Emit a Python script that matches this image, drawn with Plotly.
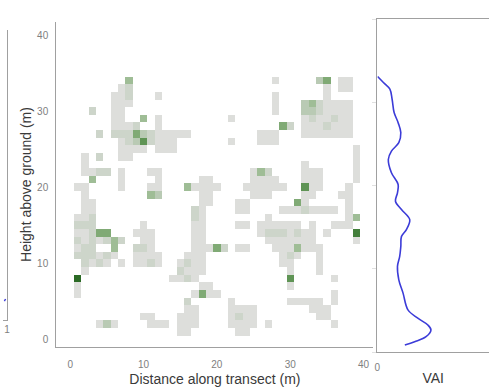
import plotly.graph_objects as go

# Grid of 1 m x 1 m voxels along the transect
distance_m = list(range(41))
height_m = list(range(36))

# Leaf-density class per voxel, rows listed from the top (35 m) down to the ground (0 m).
# Each character is one metre along the transect (0..40 m, grouped by tens);
# '.' means no returns.
density_rows_top_down = [
    ".......... .......... .......... .......... .",  # 35
    "........5. .......... ........2. ....46.22. .",  # 34
    ".......23. .......... .......... .....2.22. .",  # 33
    "......223. ..2....... ........2. .....2.... .",  # 32
    "......222. .......... ........2. ..4532222. .",  # 31
    "...3..22.. .......... ........2. ..4432222. .",  # 30
    "......22.. 5.2....... ..2....... ..2322322. .",  # 29
    "......2223 ..2....... .........6 3.2223222. .",  # 28
    "....3.3336 4322222... ......222. ..2222222. .",  # 27
    ".......234 73222..... ..2...222. .......... .",  # 26
    ".......222 2.222..... .......... .........2 .",  # 25
    "..2.3..22. .......... .......... .........2 .",  # 24
    "..2....... .......... .......... ..2......2 .",  # 23
    "..2233.2.. .22....... .....253.. ..222....2 .",  # 22
    "...5...2.. ..2.....22 .....2222. ..222....2 .",  # 21
    ".22....2.. .22...5222 2...222222 ..722...2. .",  # 20
    "..2....... .54.....22 .....222.. ..22...22. .",  # 19
    "..22...... ........22 ...22..... .62.....2. .",  # 18
    "..22...... .......32. ...22....2 2232222.2. .",  # 17
    ".223...... .......32. .......2.. ........25 .",  # 16
    ".333...... 2......22. ...22.2222 22.2..222. .",  # 15
    ".22366...2 22.....22. ......2333 2322.2...8 .",  # 14
    ".3232353.. 22.....22. .......222 2222.....2 .",  # 13
    ".233..5..3 32.....222 63.22...22 25222..... .",  # 12
    ".333232..2 222...222. .........2 32..2..... .",  # 11
    "..3232.2.2 232..2322. .........2 2...2..... .",  # 10
    "..2....... .....3222. .......... 2...2..... .",  # 9
    ".9........ ....2232.. .......... 7.....2... .",  # 8
    ".2........ ........22 .......... 2......... .",  # 7
    ".2........ .......262 2......... ......2... .",  # 6
    ".......... ......3... ..2....... 22222.2... .",  # 5
    ".......... ......22.. ..2222.... ...222.... .",  # 4
    ".......... 22...222.. ..2322.... ....22.... .",  # 3
    "....242... .222.222.. ..2222.2.. ......2... .",  # 2
    ".......... .....22... ...22..... .......... .",  # 1
    ".......... .......... .......... .......... .",  # 0
]

# Vegetation area index profile
vai_height = [33.10, 32.37, 31.57, 30.36, 28.76, 27.55, 26.35, 25.14, 24.13, 23.13,
              21.53, 20.12, 19.12, 18.11, 17.11, 15.90, 14.70, 13.89, 12.69, 11.48,
              10.28, 8.67, 7.07, 5.06, 4.06, 3.25, 2.65, 1.84, 1.24, 0.84]
vai_value = [0.001, 0.027, 0.056, 0.066, 0.075, 0.093, 0.105, 0.096, 0.063, 0.049,
             0.063, 0.093, 0.090, 0.081, 0.108, 0.145, 0.130, 0.108, 0.105, 0.100,
             0.090, 0.096, 0.115, 0.137, 0.181, 0.226, 0.240, 0.218, 0.167, 0.123]

# Tail of the neighbouring profile panel on the left
left_height = [2.6, 2.9]
left_value = [0.35, 0.65]

ncols = len(distance_m)
z = []
for row in reversed(density_rows_top_down):
    cells = row.replace(" ", "")
    assert len(cells) == ncols, (row, len(cells))
    z.append([None if ch == "." else int(ch) for ch in cells])

colorscale = [
    [0.0, "#ececec"],
    [0.125, "#dddedb"],
    [0.25, "#cdd5ca"],
    [0.375, "#b9cab4"],
    [0.5, "#9fbd96"],
    [0.625, "#80aa75"],
    [0.75, "#5f9455"],
    [0.875, "#437f3b"],
    [1.0, "#2b6a25"],
]

W, H = 492, 387
FONT = "Arial, Liberation Sans, sans-serif"
TICK = dict(family=FONT, size=10, color="#808080")
TITLE = dict(family=FONT, size=14, color="#3a3a3a")
AXIS_LINE = "#a0a0a0"

def px(x):
    return x / W

def py(y):
    return 1 - y / H

fig = go.Figure()

fig.add_trace(go.Heatmap(
    x=distance_m, y=height_m, z=z,
    colorscale=colorscale, zmin=1, zmax=9,
    showscale=False, hoverongaps=False,
    xaxis="x", yaxis="y",
))

fig.add_trace(go.Scatter(
    x=vai_value, y=vai_height, mode="lines",
    line=dict(color="#3c3cd8", width=1.6, shape="spline"),
    xaxis="x2", yaxis="y2", showlegend=False,
))

fig.add_trace(go.Scatter(
    x=left_value, y=left_height, mode="lines",
    line=dict(color="#3c3cd8", width=1.4),
    xaxis="x3", yaxis="y3", showlegend=False,
))

fig.update_layout(
    width=W, height=H,
    margin=dict(l=0, r=0, t=0, b=0),
    paper_bgcolor="white", plot_bgcolor="white",
    showlegend=False,
    xaxis=dict(
        domain=[px(54), px(375)],
        range=[(54 - 68) / 7.425, (375 - 68) / 7.425],
        tickvals=[0, 10, 20, 30, 40], tickfont=TICK,
        showgrid=False, zeroline=False,
        showline=True, linecolor=AXIS_LINE, linewidth=1.2,
        ticks="", ticklabelstandoff=8,
        title=dict(text="Distance along transect (m)", font=TITLE, standoff=7),
    ),
    yaxis=dict(
        domain=[py(347), py(22)],
        range=[(339 - 347) / 7.6, (339 - 22) / 7.6],
        tickvals=[0, 10, 20, 30, 40], tickfont=TICK,
        showgrid=False, zeroline=False,
        showline=True, linecolor=AXIS_LINE, linewidth=1.2,
        ticks="", ticklabelstandoff=5,
        title=dict(text="Height above ground (m)", font=TITLE, standoff=2),
    ),
    xaxis2=dict(
        domain=[px(379), 1.0],
        range=[0, 0.5], anchor="y2",
        tickvals=[0], ticktext=["0"], tickfont=TICK,
        showgrid=False, zeroline=False,
        showline=True, mirror=True, linecolor=AXIS_LINE, linewidth=1.2,
        ticks="", ticklabelstandoff=6,
        title=dict(text="VAI", font=TITLE, standoff=1),
    ),
    yaxis2=dict(
        domain=[py(352), py(19)],
        range=[0, 40], anchor="x2",
        tickvals=[0, 10, 20, 30, 40], showticklabels=False,
        ticks="outside", ticklen=4, tickcolor="#e0e0e0", tickwidth=1,
        showgrid=False, zeroline=False,
        showline=True, linecolor=AXIS_LINE, linewidth=1.2,
    ),
    xaxis3=dict(
        domain=[0, px(4)],
        range=[0, 1], anchor="y3",
        tickvals=[1], ticktext=["1"], tickfont=TICK,
        showgrid=False, zeroline=False,
        showline=True, linecolor=AXIS_LINE, linewidth=1.2,
        ticks="",
    ),
    yaxis3=dict(
        domain=[py(320), py(30)],
        range=[0, 40], anchor="x3", side="right",
        showticklabels=False, ticks="",
        showgrid=False, zeroline=False,
        showline=True, linecolor=AXIS_LINE, linewidth=1.2,
    ),
)

fig.write_html("out.html")
